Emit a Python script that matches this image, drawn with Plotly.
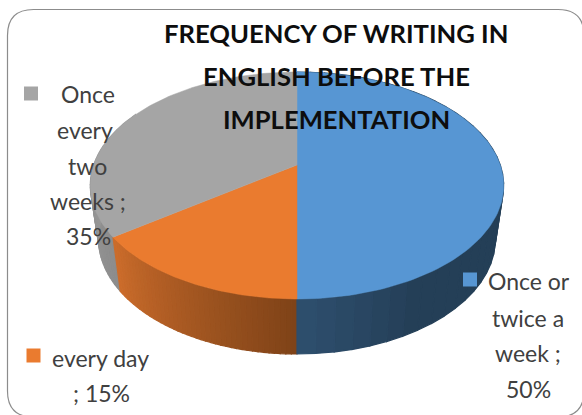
import math
import plotly.graph_objects as go

# ---- data ----
categories = ["Once or twice a week", "every day", "Once every two weeks"]
values = [50, 15, 35]
top_colors = ["#5796D3", "#EA7B2F", "#A5A5A5"]
side_left = ["#2F5070", "#CB6C2B", "#8C8C8C"]
side_right = ["#243F57", "#7F4318", "#A0A0A0"]
title_lines = ["FREQUENCY OF WRITING IN", "ENGLISH BEFORE THE", "IMPLEMENTATION"]
label_lines = [
    ["Once or", "twice a", "week ;", "50%"],
    ["every day", "; 15%"],
    ["Once", "every", "two", "weeks ;", "35%"],
]

# ---- layout / projection settings (pixels of the 582x415 page) ----
W, H = 582, 415
CX, CY, A, B, K = 297.0, 165.0, 203.3, 109.8, -0.1806


def rim(theta):
    u, v = math.sin(theta), -math.cos(theta)
    d = 1 + K * v
    return CX + A * u / d, CY + B * v / d


def base(theta):
    x, y = rim(theta)
    return CX + 0.96 * (x - CX), 239 + 1.013 * (y - 185.5)


def mix(c1, c2, t):
    a = [int(c1[i:i + 2], 16) for i in (1, 3, 5)]
    b = [int(c2[i:i + 2], 16) for i in (1, 3, 5)]
    return "#" + "".join(f"{round(p + (q - p) * t):02X}" for p, q in zip(a, b))


fig = go.Figure()
total = sum(values)
spans = []
start = 0.0
for v in values:
    end = start + v / total * 2 * math.pi
    spans.append((start, end))
    start = end

# side walls, only the part facing the viewer
for i in (2, 1, 0):
    s, e = spans[i]
    e2 = min(e, math.radians(300))
    n = 40
    for j in range(n):
        t0 = s + (e2 - s) * j / n
        t1 = s + (e2 - s) * (j + 1) / n
        if i == 0:
            if t1 < math.pi / 2:
                col = side_right[0]
            else:
                frac = (t0 - math.pi / 2) / (math.pi / 2)
                col = mix(side_right[0], side_left[0], max(0, frac - 0.65) / 0.35)
        elif i == 1:
            col = mix(side_right[1], side_left[1], j / (n - 1))
        else:
            col = mix(side_left[2], side_right[2], j / (n - 1))
        x0, y0 = rim(t0)
        x1, y1 = rim(t1)
        x2, y2 = base(t1)
        x3, y3 = base(t0)
        fig.add_trace(go.Scatter(x=[x0, x1, x2, x3, x0], y=[y0, y1, y2, y3, y0], mode="lines",
                                 fill="toself", fillcolor=col, line=dict(color=col, width=1.2),
                                 hoverinfo="skip", showlegend=False))

# top faces
for i, (s, e) in enumerate(spans):
    n = 120
    pts = [rim(s + (e - s) * j / n) for j in range(n + 1)]
    xs = [CX] + [p[0] for p in pts] + [CX]
    ys = [CY] + [p[1] for p in pts] + [CY]
    fig.add_trace(go.Scatter(x=xs, y=ys, mode="lines", fill="toself", fillcolor=top_colors[i],
                             line=dict(color=top_colors[i], width=0.5), name=categories[i],
                             hoverinfo="skip", showlegend=False))

# legend keys of the data labels
key_x = [470, 33.5, 31]
key_y = [279.5, 355.5, 93.5]
for i in range(3):
    fig.add_trace(go.Scatter(x=[key_x[i]], y=[key_y[i]], mode="markers",
                             marker=dict(symbol="square", size=14, color=top_colors[i]),
                             hoverinfo="skip", showlegend=False))

ann = []
title_y = [33, 76, 119]
for line, y in zip(title_lines, title_y):
    ann.append(dict(x=336, y=y, text=f"<b>{line}</b>", showarrow=False, xref="x", yref="y",
                    font=dict(family="Lato", size=25.6, color="#0D0D0D")))
label_x = [[529, 528, 528, 528], [100, 101], [88, 85, 87, 88, 88]]
label_y = [[281, 318, 353, 389], [358, 393], [94, 130, 166, 201, 236]]
for lines, xs, ys in zip(label_lines, label_x, label_y):
    for line, x, y in zip(lines, xs, ys):
        ann.append(dict(x=x, y=y, text=line, showarrow=False, xref="x", yref="y",
                        font=dict(family="Lato", size=23, color="#404040")))

L, T, R, Bt, r = 7.5, 9.5, 584, 417, 26
border = (f"M {L + r} {T} L {R - r} {T} Q {R} {T} {R} {T + r} L {R} {Bt - r} Q {R} {Bt} {R - r} {Bt} "
          f"L {L + r} {Bt} Q {L} {Bt} {L} {Bt - r} L {L} {T + r} Q {L} {T} {L + r} {T} Z")

fig.update_layout(
    width=W, height=H, margin=dict(l=0, r=0, t=0, b=0),
    paper_bgcolor="white", plot_bgcolor="white", showlegend=False,
    xaxis=dict(range=[0, W], visible=False, fixedrange=True),
    yaxis=dict(range=[H, 0], visible=False, fixedrange=True),
    annotations=ann,
    shapes=[dict(type="path", path=border, xref="x", yref="y", layer="below",
                 line=dict(color="#8C8C8C", width=1.2), fillcolor="white")],
)
fig.write_html("out.html", config=dict(displayModeBar=False),
               post_script="document.body.style.margin='0';document.documentElement.style.overflow='hidden';")
